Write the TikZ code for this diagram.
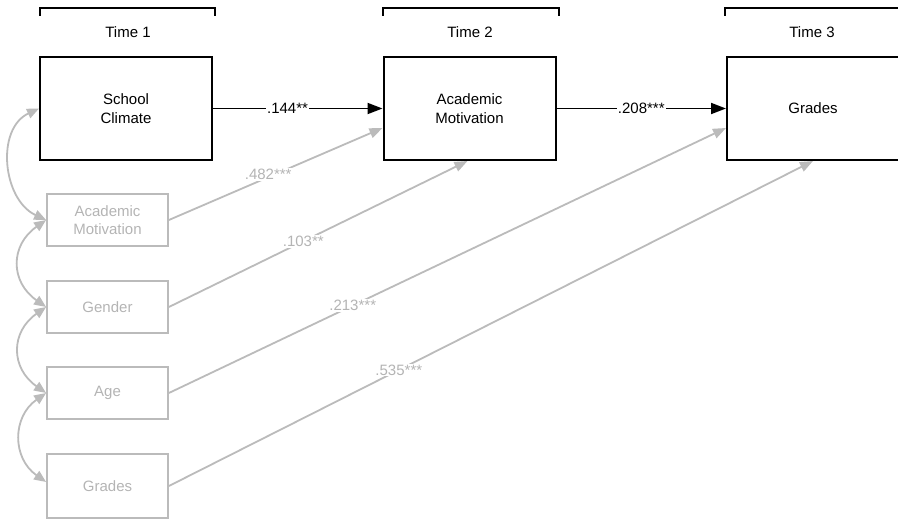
\documentclass[tikz,border=0pt]{standalone}
\usepackage{fontspec}
\setmainfont{Liberation Sans}
\usetikzlibrary{arrows.meta}
\definecolor{lgrey}{HTML}{BBBBBB}
\definecolor{tgrey}{HTML}{B4B4B4}
\tikzset{
  mainbox/.style={draw=black, line width=2pt, minimum width=172pt, minimum height=103pt, align=center, font=\fontsize{15}{18.5}\selectfont, inner sep=0pt},
  covbox/.style={draw=lgrey, line width=1.8pt, minimum width=121pt, minimum height=52pt, align=center, text=tgrey, font=\fontsize{15}{18.5}\selectfont, inner sep=0pt},
  timelbl/.style={font=\fontsize{15}{18}\selectfont},
  bracketline/.style={line width=1.8pt},
  blackarrow/.style={line width=1.8pt, -{Triangle[length=15pt,width=11pt]}},
  greyarrow/.style={draw=lgrey, line width=1.8pt, -{Triangle[length=13pt,width=10pt]}},
  corarrow/.style={draw=lgrey, line width=1.8pt, {Triangle[length=12pt,width=10pt]}-{Triangle[length=12pt,width=10pt]}},
  coeflbl/.style={fill=white, inner sep=1pt, font=\fontsize{15}{18}\selectfont},
  greycoef/.style={coeflbl, text=tgrey}
}
\begin{document}
\begin{tikzpicture}[x=1pt, y=-1pt]
\useasboundingbox (0,0) rectangle (898,519);
% brackets
\coordinate (b1a) at (40,16); \coordinate (b1b) at (40,8); \coordinate (b1c) at (215,8); \coordinate (b1d) at (215,16);
\coordinate (b2a) at (383,16); \coordinate (b2b) at (383,8); \coordinate (b2c) at (559,8); \coordinate (b2d) at (559,16);
\coordinate (b3a) at (725,16); \coordinate (b3b) at (725,8); \coordinate (b3c) at (905,8);
\draw[bracketline] (b1a) -- (b1b) -- (b1c) -- (b1d);
\draw[bracketline] (b2a) -- (b2b) -- (b2c) -- (b2d);
\draw[bracketline] (b3a) -- (b3b) -- (b3c);
\node[timelbl] (t1) at (128,32) {Time 1};
\node[timelbl] (t2) at (470,32) {Time 2};
\node[timelbl] (t3) at (812,32) {Time 3};
% main boxes
\node[mainbox] (sc) at (126,108.5) {School\\Climate};
\node[mainbox] (am2) at (469.5,108.5) {Academic\\Motivation};
\node[mainbox] (gr3) at (813,108.5) {Grades};
% covariate boxes
\node[covbox] (am1) at (107.5,220) {Academic\\Motivation};
\node[covbox] (gen) at (107.5,307) {Gender};
\node[covbox] (age) at (107.5,393) {Age};
\node[covbox, minimum height=64pt] (gr1) at (107.5,486) {Grades};
% main paths
\draw[blackarrow] (sc.east) -- node[coeflbl, pos=0.44] (c1) {.144**} (am2.west);
\draw[blackarrow] (am2.east) -- node[coeflbl, pos=0.5] (c2) {.208***} (gr3.west);
% grey paths
\draw[greyarrow] (am1.east) -- node[greycoef, pos=0.465, yshift=3pt] (c3) {.482***} ([yshift=-19.5pt]am2.west);
\draw[greyarrow] (gen.east) -- node[greycoef, pos=0.45] (c4) {.103**} ([xshift=-2pt]am2.south);
\draw[greyarrow] (age.east) -- node[greycoef, pos=0.33] (c5) {.213***} ([yshift=-19.5pt]gr3.west);
\draw[greyarrow] (gr1.east) -- node[greycoef, pos=0.357] (c6) {.535***} (gr3.south);
% correlations
\draw[corarrow] (sc.west) to[out=205, in=155, looseness=1.1] (am1.west);
\draw[corarrow] (am1.west) to[out=215, in=145, looseness=1.3] (gen.west);
\draw[corarrow] (gen.west) to[out=215, in=145, looseness=1.3] (age.west);
\draw[corarrow] (age.west) to[out=215, in=145, looseness=1.2] ([yshift=4pt]gr1.west);
\end{tikzpicture}
\end{document}
